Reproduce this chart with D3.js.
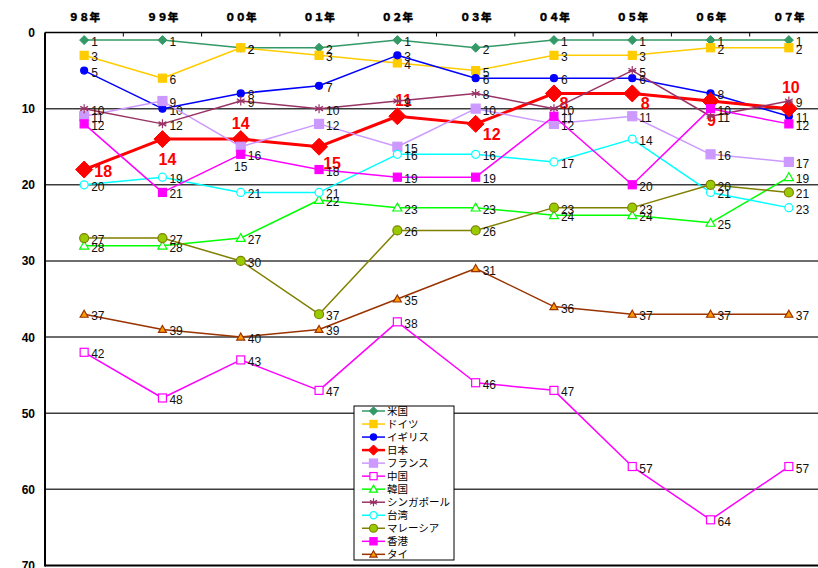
<!DOCTYPE html>
<html>
<head>
<meta charset="utf-8">
<script src="https://cdn.jsdelivr.net/npm/d3@7"></script>
<style>
  html, body { margin: 0; padding: 0; background: #fff; }
  svg { display: block; }
</style>
</head>
<body>
<svg id="chart" width="818" height="568"></svg>
<script>
// Year categories along the top axis
const years = ["９８年", "９９年", "００年", "０１年", "０２年", "０３年", "０４年", "０５年", "０６年", "０７年"];
// Rank ticks on the (inverted) vertical axis
const rankTicks = [0, 10, 20, 30, 40, 50, 60, 70];

// Ranking per country, 1998–2007
const usa       = [1, 1, 2, 2, 1, 2, 1, 1, 1, 1];
const germany   = [3, 6, 2, 3, 4, 5, 3, 3, 2, 2];
const uk        = [5, 10, 8, 7, 3, 6, 6, 6, 8, 11];
const japan     = [18, 14, 14, 15, 11, 12, 8, 8, 9, 10];
const france    = [11, 9, 15, 12, 15, 10, 12, 11, 16, 17];
const china     = [42, 48, 43, 47, 38, 46, 47, 57, 64, 57];
const korea     = [28, 28, 27, 22, 23, 23, 24, 24, 25, 19];
const singapore = [10, 12, 9, 10, 9, 8, 10, 5, 11, 9];
const taiwan    = [20, 19, 21, 21, 16, 16, 17, 14, 21, 23];
const malaysia  = [27, 27, 30, 37, 26, 26, 23, 23, 20, 21];
const hongkong  = [12, 21, 16, 18, 19, 19, 11, 20, 10, 12];
const thailand  = [37, 39, 40, 39, 35, 31, 36, 37, 37, 37];

const seriesNames = ["米国", "ドイツ", "イギリス", "日本", "フランス", "中国", "韓国", "シンガポール", "台湾", "マレーシア", "香港", "タイ"];
const seriesValues = [usa, germany, uk, japan, france, china, korea, singapore, taiwan, malaysia, hongkong, thailand];

// Visual style per series
const styles = {
  "米国":        { line: "#339966", width: 1.5, shape: "diamond", size: 7,  fill: "#339966", stroke: "#339966" },
  "ドイツ":      { line: "#FFCC00", width: 1.5, shape: "square",  size: 8,  fill: "#FFCC00", stroke: "#FFCC00" },
  "イギリス":    { line: "#0000FF", width: 1.5, shape: "circle",  size: 8,  fill: "#0000FF", stroke: "#0000FF" },
  "日本":        { line: "#FF0000", width: 3,   shape: "diamond", size: 15, fill: "#FF0000", stroke: "#FF0000" },
  "フランス":    { line: "#CC99FF", width: 1.5, shape: "square",  size: 9,  fill: "#CC99FF", stroke: "#CC99FF" },
  "中国":        { line: "#FF00FF", width: 1.5, shape: "square",  size: 8,  fill: "#FFFFFF", stroke: "#FF00FF" },
  "韓国":        { line: "#00FF00", width: 1.5, shape: "triangle",size: 9,  fill: "#FFFFFF", stroke: "#00FF00" },
  "シンガポール":{ line: "#993366", width: 1.5, shape: "star",    size: 9,  fill: "none",    stroke: "#993366" },
  "台湾":        { line: "#00FFFF", width: 1.5, shape: "circle",  size: 9,  fill: "#FFFFFF", stroke: "#00FFFF" },
  "マレーシア":  { line: "#808000", width: 1.5, shape: "circle",  size: 10, fill: "#99CC00", stroke: "#808000" },
  "香港":        { line: "#FF00FF", width: 1.5, shape: "square",  size: 8,  fill: "#FF00FF", stroke: "#FF00FF" },
  "タイ":        { line: "#993300", width: 1.5, shape: "triangle",size: 8,  fill: "#FF9900", stroke: "#993300" }
};

const svg = d3.select("#chart");
const numFont = "'Liberation Sans', Arial, sans-serif";
const jpFont = "'Noto Sans CJK JP', sans-serif";

const plotLeft = 45, plotRight = 828, plotTop = 32.5, plotBottom = 565.5;

const x = d3.scaleBand().domain(years).range([plotLeft, plotRight]);
const y = d3.scaleLinear().domain([0, 70]).range([plotTop, plotBottom]);
const cx = d => x(d) + x.bandwidth() / 2;

// Horizontal grid lines
svg.append("g").selectAll("line")
  .data(rankTicks.filter(t => t > 0 && t < 70))
  .join("line")
  .attr("x1", plotLeft).attr("x2", plotRight)
  .attr("y1", d => y(d)).attr("y2", d => y(d))
  .attr("stroke", "#3c3c3c").attr("stroke-width", 1.5);

// Vertical axis labels
svg.append("g").selectAll("text")
  .data(rankTicks)
  .join("text")
  .attr("x", 35).attr("y", d => y(d) + 4.5)
  .attr("text-anchor", "end")
  .attr("font-family", numFont).attr("font-weight", "bold").attr("font-size", 12)
  .text(d => d);

// Top axis with inward ticks at category boundaries
svg.append("line")
  .attr("x1", plotLeft).attr("x2", plotRight)
  .attr("y1", plotTop).attr("y2", plotTop)
  .attr("stroke", "#000").attr("stroke-width", 1.5);
svg.append("g").selectAll("line")
  .data(years.slice(1))
  .join("line")
  .attr("x1", d => x(d)).attr("x2", d => x(d))
  .attr("y1", plotTop).attr("y2", plotTop + 4)
  .attr("stroke", "#000").attr("stroke-width", 1);
svg.append("g").selectAll("text")
  .data(years)
  .join("text")
  .attr("x", d => cx(d)).attr("y", 20.5)
  .attr("text-anchor", "middle")
  .attr("font-family", jpFont).attr("font-weight", "900").attr("font-size", 10.5)
  .attr("stroke", "#000").attr("stroke-width", 0.35)
  .text(d => d);

// Left and bottom axis lines
svg.append("line")
  .attr("x1", plotLeft).attr("x2", plotLeft)
  .attr("y1", plotTop).attr("y2", plotBottom + 1)
  .attr("stroke", "#000").attr("stroke-width", 2);
svg.append("line")
  .attr("x1", plotLeft).attr("x2", plotRight)
  .attr("y1", plotBottom).attr("y2", plotBottom)
  .attr("stroke", "#000").attr("stroke-width", 2);

// Marker drawing
function drawMarker(g, st, px, py, scale = 1) {
  const s = st.size * scale;
  if (st.shape === "circle") {
    g.append("circle").attr("cx", px).attr("cy", py).attr("r", s / 2 - 0.5)
      .attr("fill", st.fill).attr("stroke", st.stroke).attr("stroke-width", 1.2);
  } else if (st.shape === "square") {
    g.append("rect").attr("x", px - s / 2).attr("y", py - s / 2).attr("width", s).attr("height", s)
      .attr("fill", st.fill).attr("stroke", st.stroke).attr("stroke-width", 1.2);
  } else if (st.shape === "diamond") {
    const h = s / 2 + 1;
    g.append("path")
      .attr("d", `M${px},${py - h}L${px + h},${py}L${px},${py + h}L${px - h},${py}Z`)
      .attr("fill", st.fill).attr("stroke", st.stroke).attr("stroke-width", 1);
  } else if (st.shape === "triangle") {
    const h = s / 2;
    g.append("path")
      .attr("d", `M${px},${py - h}L${px + h},${py + h * 0.75}L${px - h},${py + h * 0.75}Z`)
      .attr("fill", st.fill).attr("stroke", st.stroke).attr("stroke-width", 1.2);
  } else if (st.shape === "star") {
    const h = s / 2;
    const d = [0, 60, 120].map(a => {
      const r = (a + 90) * Math.PI / 180;
      return `M${px - h * Math.cos(r)},${py - h * Math.sin(r)}L${px + h * Math.cos(r)},${py + h * Math.sin(r)}`;
    }).join("") + `M${px - h * 0.87},${py}L${px + h * 0.87},${py}`;
    g.append("path").attr("d", d).attr("stroke", st.stroke).attr("stroke-width", 1.2).attr("fill", "none");
  }
}

const line = d3.line().x(d => cx(d.year)).y(d => y(d.value));

// Japan value label placement (dx, baseline dy) relative to each point
const jpLabelOffsets = [[19, 7], [5, 26], [0, -10], [13, 22], [6, -10], [16, 16], [10, 16], [13, 16], [1, 25], [2, -16]];

// Lines, markers, and labels per series
seriesNames.forEach((name, si) => {
  const st = styles[name];
  const pts = seriesValues[si].map((v, i) => ({ year: years[i], value: v }));
  const g = svg.append("g");
  g.append("path").datum(pts)
    .attr("d", line)
    .attr("fill", "none").attr("stroke", st.line).attr("stroke-width", st.width)
    .attr("stroke-linejoin", "round");
  pts.forEach(p => drawMarker(g, st, cx(p.year), y(p.value)));
  if (name === "日本") {
    g.selectAll("text.jp").data(pts).join("text")
      .attr("x", (d, i) => cx(d.year) + jpLabelOffsets[i][0])
      .attr("y", (d, i) => y(d.value) + jpLabelOffsets[i][1])
      .attr("text-anchor", "middle")
      .attr("font-family", numFont).attr("font-weight", "bold").attr("font-size", 16)
      .attr("fill", "#FF0000")
      .text(d => d.value);
  } else {
    g.selectAll("text.v").data(pts).join("text")
      .attr("x", (d, i) => (name === "フランス" && i === 2) ? cx(d.year) : cx(d.year) + 7)
      .attr("y", (d, i) => (name === "フランス" && i === 2) ? y(d.value) + 24 : y(d.value) + 6)
      .attr("text-anchor", (d, i) => (name === "フランス" && i === 2) ? "middle" : "start")
      .attr("font-family", numFont).attr("font-size", 12)
      .attr("fill", "#111")
      .text(d => d.value);
  }
});

// Legend
const lg = svg.append("g");
lg.append("rect")
  .attr("x", 354).attr("y", 406).attr("width", 100).attr("height", 154)
  .attr("fill", "#fff").attr("stroke", "#000").attr("stroke-width", 1);
seriesNames.forEach((name, i) => {
  const st = styles[name];
  const ly = 411 + i * 13.03;
  lg.append("line").attr("x1", 362).attr("x2", 385).attr("y1", ly).attr("y2", ly)
    .attr("stroke", st.line).attr("stroke-width", name === "日本" ? 2.5 : 1.5);
  drawMarker(lg, st, 373.5, ly, name === "日本" ? 0.55 : 0.9);
  lg.append("text").attr("x", 387).attr("y", ly + 4)
    .attr("font-family", jpFont).attr("font-size", 10.5).attr("fill", "#000")
    .text(name);
});
</script>
</body>
</html>
